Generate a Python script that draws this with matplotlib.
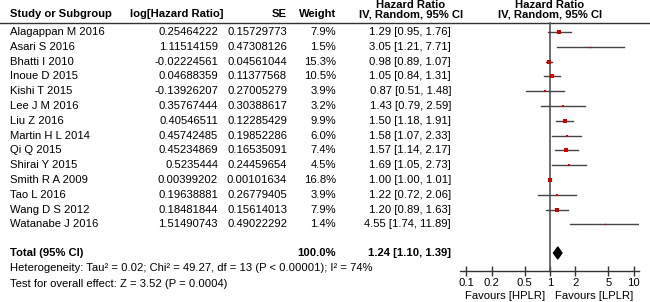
import matplotlib
matplotlib.use("Agg")
import matplotlib.pyplot as plt
from matplotlib.ticker import FixedLocator, FixedFormatter
import numpy as np

plt.rcParams['font.family'] = ['Liberation Sans', 'DejaVu Sans']

studies = ["Alagappan M 2016", "Asari S 2016", "Bhatti I 2010", "Inoue D 2015",
           "Kishi T 2015", "Lee J M 2016", "Liu Z 2016", "Martin H L 2014",
           "Qi Q 2015", "Shirai Y 2015", "Smith R A 2009", "Tao L 2016",
           "Wang D S 2012", "Watanabe J 2016"]
log_hr = ["0.25464222", "1.11514159", "-0.02224561", "0.04688359", "-0.13926207",
          "0.35767444", "0.40546511", "0.45742485", "0.45234869", "0.5235444",
          "0.00399202", "0.19638881", "0.18481844", "1.51490743"]
se = ["0.15729773", "0.47308126", "0.04561044", "0.11377568", "0.27005279",
      "0.30388617", "0.12285429", "0.19852286", "0.16535091", "0.24459654",
      "0.00101634", "0.26779405", "0.15614013", "0.49022292"]
weight = [7.9, 1.5, 15.3, 10.5, 3.9, 3.2, 9.9, 6.0, 7.4, 4.5, 16.8, 3.9, 7.9, 1.4]
hr = [1.29, 3.05, 0.98, 1.05, 0.87, 1.43, 1.50, 1.58, 1.57, 1.69, 1.00, 1.22, 1.20, 4.55]
lo = [0.95, 1.21, 0.89, 0.84, 0.51, 0.79, 1.18, 1.07, 1.14, 1.05, 1.00, 0.72, 0.89, 1.74]
hi = [1.76, 7.71, 1.07, 1.31, 1.48, 2.59, 1.91, 2.33, 2.17, 2.73, 1.01, 2.06, 1.63, 11.89]
total = (1.24, 1.10, 1.39)
total_weight = 100.0
tick_vals = [0.1, 0.2, 0.5, 1, 2, 5, 10]
tick_labels = ["0.1", "0.2", "0.5", "1", "2", "5", "10"]
het_text = "Heterogeneity: Tau² = 0.02; Chi² = 49.27, df = 13 (P < 0.00001); I² = 74%"
test_text = "Test for overall effect: Z = 3.52 (P = 0.0004)"
fav_left = "Favours [HPLR]"
fav_right = "Favours [LPLR]"

W, H = 650, 302
fig = plt.figure(figsize=(W / 100, H / 100), dpi=100)
ax = fig.add_axes([0, 0, 1, 1])
ax.set_xlim(0, W)
ax.set_ylim(H, 0)
ax.axis('off')

fs = 8.1
row0, step = 32, 14.8
ys = [row0 + i * step for i in range(len(studies))]
y_total = 253
y_het = 268
y_test = 284

# headers
ax.text(10, 14, "Study or Subgroup", ha='left', va='center', fontsize=fs, fontweight='bold')
ax.text(130, 14, "log[Hazard Ratio]", ha='left', va='center', fontsize=fs, fontweight='bold')
ax.text(287, 14, "SE", ha='right', va='center', fontsize=fs, fontweight='bold')
ax.text(336, 14, "Weight", ha='right', va='center', fontsize=fs, fontweight='bold')
ax.text(411, 4.5, "Hazard Ratio", ha='center', va='center', fontsize=fs, fontweight='bold')
ax.text(411, 14.5, "IV, Random, 95% CI", ha='center', va='center', fontsize=fs, fontweight='bold')
ax.text(550, 4.5, "Hazard Ratio", ha='center', va='center', fontsize=fs, fontweight='bold')
ax.text(550, 14.5, "IV, Random, 95% CI", ha='center', va='center', fontsize=fs, fontweight='bold')
ax.plot([0, W], [23, 23], color='#333333', lw=1.0)

for i, s in enumerate(studies):
    y = ys[i]
    ax.text(10, y, s, ha='left', va='center', fontsize=fs)
    ax.text(218, y, log_hr[i], ha='right', va='center', fontsize=fs)
    ax.text(287, y, se[i], ha='right', va='center', fontsize=fs)
    ax.text(336, y, f"{weight[i]:.1f}%", ha='right', va='center', fontsize=fs)
    ax.text(451, y, f"{hr[i]:.2f} [{lo[i]:.2f}, {hi[i]:.2f}]", ha='right', va='center', fontsize=fs)

ax.text(10, y_total, "Total (95% CI)", ha='left', va='center', fontsize=fs, fontweight='bold')
ax.text(336, y_total, f"{total_weight:.1f}%", ha='right', va='center', fontsize=fs, fontweight='bold')
ax.text(451, y_total, f"{total[0]:.2f} [{total[1]:.2f}, {total[2]:.2f}]", ha='right', va='center',
        fontsize=fs, fontweight='bold')
ax.text(10, y_het, het_text, ha='left', va='center', fontsize=fs)
ax.text(10, y_test, test_text, ha='left', va='center', fontsize=fs)

# forest axes
decade = 83.5
x_one = 550
x_left, x_right = 460, 639
axf = fig.add_axes([x_left / W, 0, (x_right - x_left) / W, 1])
axf.set_xscale('log')
axf.set_xlim(10 ** ((x_left - x_one) / decade), 10 ** ((x_right - x_one) / decade))
axf.set_ylim(H, 0)
axf.patch.set_alpha(0)
for sp in ['left', 'right', 'top']:
    axf.spines[sp].set_visible(False)
axf.spines['bottom'].set_position(('data', 271))
axf.spines['bottom'].set_color('#333333')
axf.spines['bottom'].set_linewidth(1.0)
axf.set_yticks([])
axf.xaxis.set_major_locator(FixedLocator(tick_vals))
axf.xaxis.set_major_formatter(FixedFormatter(tick_labels))
axf.xaxis.set_minor_locator(FixedLocator([]))
axf.tick_params(axis='x', direction='inout', length=7, width=1.0, color='#333333',
                labelsize=fs, pad=1.5)

axf.plot([1, 1], [23, 271], color='#555555', lw=1.2)
for i in range(len(studies)):
    y = ys[i]
    axf.plot([lo[i], hi[i]], [y, y], color='#444444', lw=1.0, clip_on=True)
    axf.plot([hr[i]], [y], marker='s', color='#d40000', ms=0.85 * np.sqrt(weight[i]), mew=0,
             linestyle='none')

dh = 6
axf.fill([total[1], total[0], total[2], total[0]], [y_total, y_total - dh, y_total, y_total + dh],
         color='black')

ax.text(545, 296, fav_left, ha='right', va='center', fontsize=fs)
ax.text(555, 296, fav_right, ha='left', va='center', fontsize=fs)

fig.savefig("out.png", dpi=100)
